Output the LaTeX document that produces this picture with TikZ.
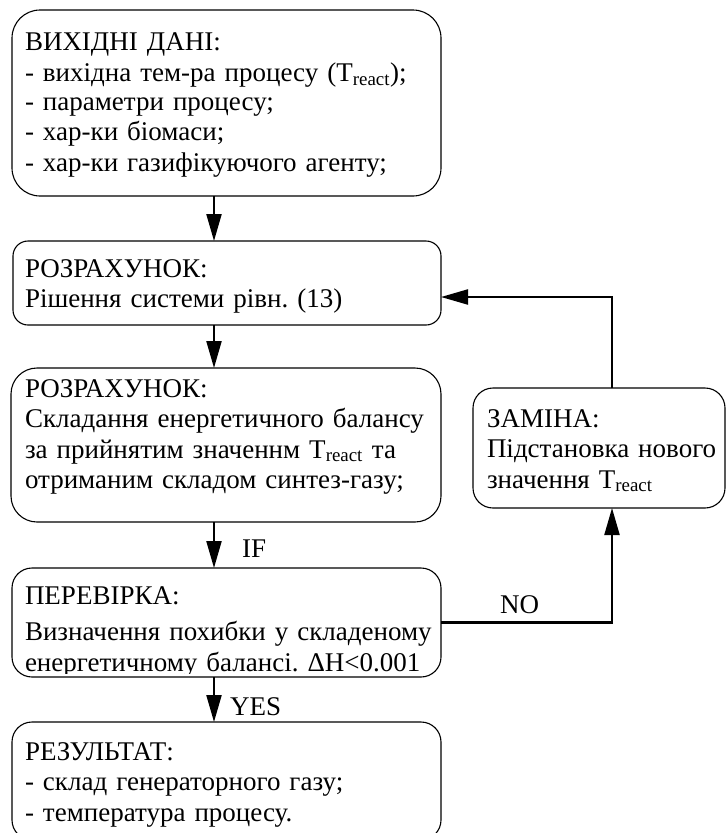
\documentclass[tikz,border=0pt]{standalone}
\usepackage{fontspec}
\setmainfont{Liberation Serif}
\usetikzlibrary{arrows.meta}
\frenchspacing
\begin{document}
\begin{tikzpicture}[x=1pt,y=-1pt,
  box/.style={draw, line width=1.1pt, rectangle, anchor=north west, inner sep=0pt, outer sep=0pt},
  txt/.style={anchor=north west, inner sep=0pt, outer sep=0pt, align=left, text width=425pt,
              font=\fontsize{27}{30.5}\selectfont},
  lbl/.style={anchor=base west, inner sep=0pt, font=\fontsize{27}{30}\selectfont},
  conn/.style={line width=2.2pt, -{Triangle[length=27pt,width=15pt]}}]
\clip (0,0) rectangle (727,833);
\fill[white] (0,0) rectangle (727,833);
\newcommand{\fs}{\rule{0pt}{22pt}}
% boxes
\node[box, rounded corners=28pt, minimum width=429pt, minimum height=186pt] (b1) at (12,10) {};
\node[box, rounded corners=15pt, minimum width=428pt, minimum height=84pt] (b2) at (13,241) {};
\node[box, rounded corners=26pt, minimum width=430pt, minimum height=154pt] (b3) at (11,368) {};
\node[box, rounded corners=20pt, minimum width=429pt, minimum height=109pt] (b4) at (12,568) {};
\node[box, rounded corners=20pt, minimum width=429pt, minimum height=118pt] (b5) at (12,722) {};
\node[box, rounded corners=20pt, minimum width=252pt, minimum height=120pt] (z) at (473,388) {};
% texts
\node[txt] (t1) at (25,28) {\fs ВИХІДНІ ДАНІ:\\[1pt]
- вихідна тем-ра процесу (T\textsubscript{react});\\[-2pt]
- параметри процесу;\\
- хар-ки біомаси;\\
- хар-ки газифікуючого агенту;};
\node[txt] (t2) at (25,255) {\fs РОЗРАХУНОК:\\
Рішення системи рівн. (13)};
\node[txt] (t3) at (25,375) {\fs РОЗРАХУНОК:\\
Складання енергетичного балансу\\
за прийнятим значеннм T\textsubscript{react} та\\
отриманим складом синтез-газу;};
\begin{scope}
\clip (b4.north west) rectangle ([yshift=4pt]b4.south east);
\node[txt] (t4) at (25,582) {\fs ПЕРЕВІРКА:\\[6pt]
Визначення похибки у складеному\\
енергетичному балансі. ΔН<0.001};
\end{scope}
\node[txt] (t5) at (25,738) {\fs РЕЗУЛЬТАТ:\\
- склад генераторного газу;\\
- температура процесу.};
\node[txt, text width=236pt] (tz) at (487,405) {\fs ЗАМІНА:\\
Підстановка нового\\
значення T\textsubscript{react}};
% connectors
\coordinate (ax) at (214,0);
\coordinate (fx) at (612,0);
\coordinate (fy) at (0,297);
\draw[conn] (b1.south -| ax) -- (b2.north -| ax);
\draw[conn] (b2.south -| ax) -- (b3.north -| ax);
\draw[conn] (b3.south -| ax) -- (b4.north -| ax);
\draw[conn] (b4.south -| ax) -- (b5.north -| ax);
\draw[conn] (b4.east) -| (z.south -| fx);
\draw[conn] (z.north -| fx) |- (b2.east |- fy);
% labels
\node[lbl] (lif) at (242,557) {IF};
\node[lbl] (lyes) at (230,715) {YES};
\node[lbl] (lno) at (500,613) {NO};
\end{tikzpicture}
\end{document}
